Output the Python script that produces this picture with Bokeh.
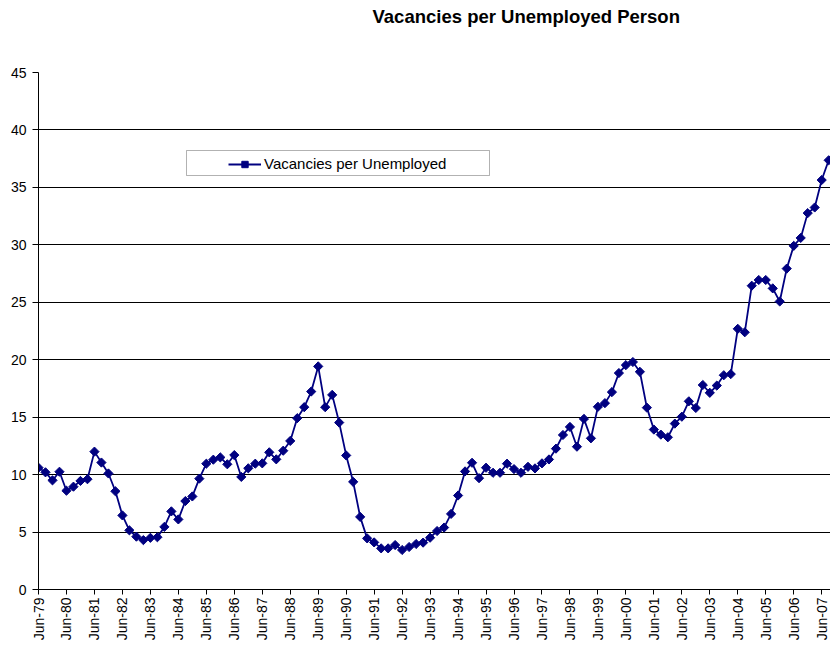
import math
from bokeh.plotting import figure
from bokeh.models import (Range1d, FixedTicker, Legend, LegendItem, BoxAnnotation, Title)
from bokeh.embed import file_html
from bokeh.resources import INLINE

# Quarterly data, Jun-79 .. Sep-07
values = [
    10.6, 10.2, 9.5, 10.25, 8.6, 8.95, 9.45, 9.6,
    12.0, 11.05, 10.1, 8.55, 6.45, 5.15, 4.6, 4.3,
    4.5, 4.55, 5.45, 6.8, 6.1, 7.7, 8.1, 9.65,
    10.95, 11.3, 11.5, 10.9, 11.7, 9.8, 10.55, 10.95,
    10.98, 11.94, 11.33, 12.08, 12.93, 14.91, 15.87, 17.23,
    19.42, 15.87, 16.94, 14.53, 11.67, 9.37, 6.32, 4.45,
    4.10, 3.58, 3.58, 3.87, 3.44, 3.70, 3.96, 4.08,
    4.51, 5.09, 5.39, 6.58, 8.18, 10.28, 11.03, 9.69,
    10.60, 10.16, 10.16, 10.95, 10.48, 10.16, 10.68, 10.54,
    10.98, 11.32, 12.26, 13.45, 14.15, 12.43, 14.85, 13.16,
    15.90, 16.22, 17.18, 18.84, 19.53, 19.80, 18.95, 15.83,
    13.92, 13.48, 13.25, 14.44, 15.04, 16.38, 15.80, 17.80,
    17.12, 17.75, 18.65, 18.75, 22.69, 22.39, 26.44, 26.94,
    26.94, 26.21, 25.07, 27.93, 29.91, 30.60, 32.76, 33.25,
    35.64, 37.36,
]
quarter_index = list(range(len(values)))

tick_labels = [
    "Jun-79", "Jun-80", "Jun-81", "Jun-82", "Jun-83", "Jun-84", "Jun-85",
    "Jun-86", "Jun-87", "Jun-88", "Jun-89", "Jun-90", "Jun-91", "Jun-92",
    "Jun-93", "Jun-94", "Jun-95", "Jun-96", "Jun-97", "Jun-98", "Jun-99",
    "Jun-00", "Jun-01", "Jun-02", "Jun-03", "Jun-04", "Jun-05", "Jun-06",
    "Jun-07",
]
tick_positions = [4 * i for i in range(len(tick_labels))]

series_name = "Vacancies per Unemployed"
title_text = "Vacancies per Unemployed Person"

FONT = "Liberation Sans"
NAVY = "#000080"

p = figure(width=830, height=649, output_backend="svg", toolbar_location=None,
           x_range=Range1d(0, 113.26), y_range=Range1d(0, 45),
           min_border_left=38, min_border_right=0, min_border_top=72,
           min_border_bottom=60)
p.outline_line_color = None
p.background_fill_color = "white"
p.border_fill_color = "white"

# empty spacer panel between the frame and the title
spacer = Title(text=" ", text_font=FONT, text_font_size="18.5px", standoff=23)
p.add_layout(spacer, "above")
t = Title(text=title_text, align="left", offset=334, text_font=FONT,
          text_font_size="18.5px", text_font_style="bold", text_color="black",
          standoff=0)
p.add_layout(t, "above")

ln = p.line(quarter_index, values, line_color=NAVY, line_width=1.8)
mk = p.scatter(quarter_index, values, marker="square", angle=math.pi / 4,
               size=6.5, fill_color=NAVY, line_color=NAVY, line_width=1)

# axes
p.xaxis.ticker = FixedTicker(ticks=tick_positions)
p.xaxis.major_label_overrides = {pos: lab for pos, lab in zip(tick_positions, tick_labels)}
p.xaxis.major_label_orientation = math.pi / 2
p.xaxis.minor_tick_line_color = None
p.xaxis.major_tick_in = 0
p.xaxis.major_tick_out = 5
p.xaxis.major_label_standoff = 3
p.xaxis.axis_line_color = "black"
p.xaxis.major_tick_line_color = "black"

p.yaxis.ticker = FixedTicker(ticks=list(range(0, 50, 5)))
p.yaxis.minor_tick_line_color = None
p.yaxis.major_tick_in = 0
p.yaxis.major_tick_out = 6
p.yaxis.major_label_standoff = 6
p.yaxis.axis_line_color = "black"
p.yaxis.major_tick_line_color = "black"

for ax in (p.xaxis, p.yaxis):
    ax.major_label_text_font = FONT
    ax.major_label_text_font_size = "14px"
    ax.major_label_text_color = "black"

p.xgrid.grid_line_color = None
p.ygrid.grid_line_color = "black"
p.ygrid.grid_line_width = 1

# legend box (drawn separately so the item can sit centered like Excel)
box = BoxAnnotation(left=148, right=451, top=439, bottom=414,
                    left_units="screen", right_units="screen",
                    top_units="screen", bottom_units="screen",
                    fill_color="white", fill_alpha=1.0,
                    line_color="black", line_width=1)
p.add_layout(box)

legend = Legend(items=[LegendItem(label=series_name, renderers=[ln, mk])],
                location=(190, 417), padding=0, margin=0, spacing=0,
                glyph_width=33, glyph_height=16, label_standoff=3,
                label_text_font=FONT, label_text_font_size="15px",
                label_text_color="black", border_line_alpha=0,
                background_fill_alpha=0)
p.add_layout(legend, "center")

open("out.html", "w").write(file_html(p, INLINE))
